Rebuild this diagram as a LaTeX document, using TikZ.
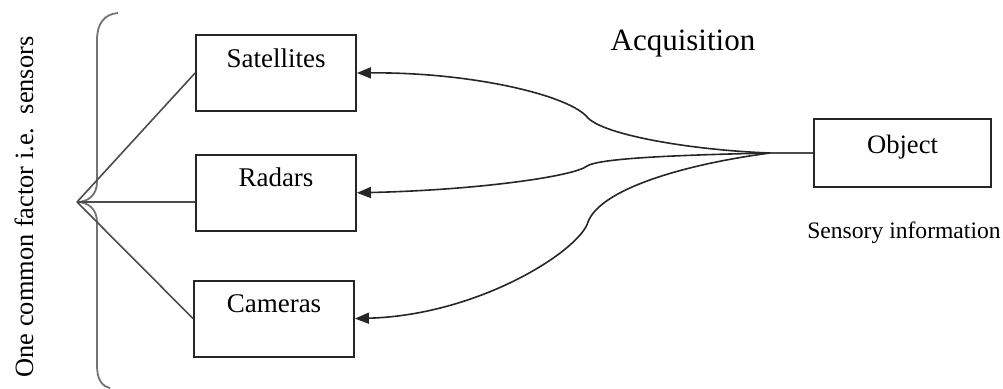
\documentclass[tikz,border=0pt]{standalone}
\usepackage{fontspec}
\setmainfont{Liberation Serif}
\usetikzlibrary{arrows.meta,positioning}
\tikzset{
  >={Triangle[length=7pt,width=5.5pt]},
  box/.style={draw=black!85,line width=0.9pt,minimum width=80pt,minimum height=38pt,inner sep=0pt,text height=10pt,text depth=16pt,font=\fontsize{13.5}{16}\selectfont},
  lab/.style={inner sep=0pt,anchor=base},
  arr/.style={->,draw=black!85,line width=0.8pt},
  ln/.style={draw=black!70,line width=0.8pt},
  brc/.style={draw=black!55,line width=0.9pt},
}
\begin{document}
\begin{tikzpicture}[x=0.5pt,y=-0.5pt]
\useasboundingbox (0,0) rectangle (1003,388);
\node[box] (sat) at (276,73) {Satellites};
\node[box,below=21pt of sat] (rad) {Radars};
\node[box,below=24pt of rad,xshift=-1pt] (cam) {Cameras};
\node[box,minimum width=88.5pt,minimum height=34pt,text height=10pt,text depth=10pt,font=\fontsize{13.3}{16}\selectfont] (obj) at (902.5,153) {Object};
\node[lab,font=\fontsize{15.5}{18}\selectfont] (acq) at (683,50) {Acquisition};
\node[lab,font=\fontsize{11.8}{14}\selectfont] (sens) at (904,238) {Sensory information};
\node[lab,rotate=90,font=\fontsize{13.2}{16}\selectfont] (fac) at (33,207) {One common factor i.e.\ \ sensors};
\coordinate (tip) at (77,202);
\coordinate (fan) at (770,153);
\draw[brc] (118,13) .. controls (104,14) and (97,24) .. (97,40) -- (97,182) .. controls (97,195) and (88,202) .. (tip) .. controls (88,202) and (97,209) .. (97,222) -- (97,365) .. controls (97,380) and (102,386) .. (110,388);
\draw[ln] (tip) -- (sat.west);
\draw[ln] (tip) -- (tip -| rad.west);
\draw[ln] (tip) -- (cam.west);
\draw[ln] (obj.west) -- (fan);
\draw[arr] (fan) .. controls (690,150) and (605,135) .. (588,118) .. controls (570,95) and (470,72) .. (sat.east);
\draw[arr] (fan) .. controls (680,155) and (600,158) .. (587,166) .. controls (575,176) and (480,190) .. (rad.east);
\draw[arr] (fan) .. controls (680,165) and (600,190) .. (588,222) .. controls (580,250) and (480,315) .. (cam.east);
\end{tikzpicture}
\end{document}
